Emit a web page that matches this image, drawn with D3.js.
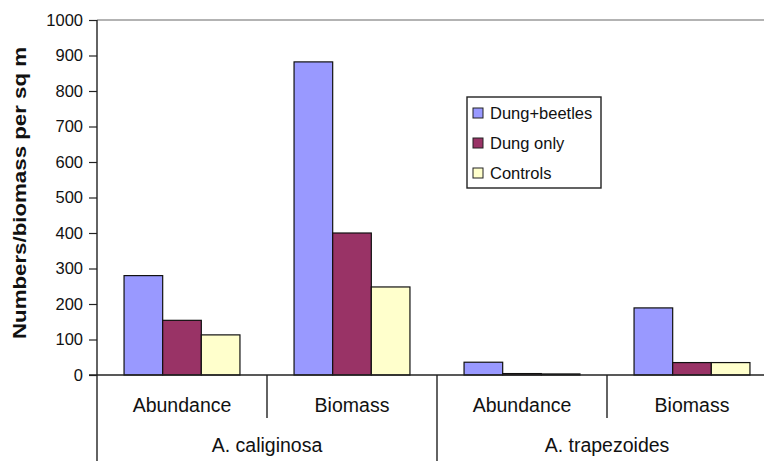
<!DOCTYPE html>
<html><head><meta charset="utf-8">
<script src="https://cdn.jsdelivr.net/npm/d3@7"></script>
<style>body{margin:0;background:#fff;}svg{display:block;font-family:"Liberation Sans",Arial,sans-serif;}</style>
</head><body><svg id="c" width="764" height="461"></svg>
<script>
const groups = ["A. caliginosa", "A. trapezoides"];
const measures = ["Abundance", "Biomass"];
const series = ["Dung+beetles", "Dung only", "Controls"];
const colors = ["#9999FF", "#993366", "#FFFFCC"];
// values per series (Dung+beetles, Dung only, Controls)
const caliginosaAbundance = [280, 154, 113];
const caliginosaBiomass = [882, 400, 248];
const trapezoidesAbundance = [36, 4, 3];
const trapezoidesBiomass = [189, 35, 35];
const yTicks = [0, 100, 200, 300, 400, 500, 600, 700, 800, 900, 1000];

const data = [
  {g: groups[0], m: measures[0], v: caliginosaAbundance},
  {g: groups[0], m: measures[1], v: caliginosaBiomass},
  {g: groups[1], m: measures[0], v: trapezoidesAbundance},
  {g: groups[1], m: measures[1], v: trapezoidesBiomass}
];
data.forEach((d,i)=>d.key = d.g + "|" + d.m);

const svg = d3.select("#c");
const x0 = 97, y0 = 375, yTop = 20;
const x = d3.scaleBand().domain(data.map(d=>d.key)).range([x0, x0 + 170*4]).padding(0);
const xs = d3.scaleBand().domain(series).range([0, x.bandwidth()]).paddingInner(0).paddingOuter(0.7);
const y = d3.scaleLinear().domain([0, 1000]).range([y0, yTop]);

// top border line
svg.append("line").attr("x1", x0).attr("x2", 764).attr("y1", y(1000)).attr("y2", y(1000))
  .attr("stroke", "#9a9a9a").attr("stroke-width", 1.5);

// bars
const cat = svg.selectAll("g.cat").data(data).join("g").attr("class","cat")
  .attr("transform", d=>`translate(${x(d.key)},0)`);
cat.selectAll("rect").data(d=>d.v.map((v,i)=>({s:series[i], v, i}))).join("rect")
  .attr("x", d=>xs(d.s)).attr("width", xs.bandwidth())
  .attr("y", d=>y(d.v)).attr("height", d=>y0 - y(d.v))
  .attr("fill", d=>colors[d.i]).attr("stroke", "#111").attr("stroke-width", 1.2);

// y axis
const yAxis = d3.axisLeft(y).tickValues(yTicks).tickSize(8).tickPadding(6).tickFormat(d3.format("d"));
const ya = svg.append("g").attr("transform", `translate(${x0},0)`).call(yAxis);
ya.select(".domain").remove();
ya.selectAll(".tick line").attr("stroke", "#222").attr("stroke-width", 1.2);
ya.selectAll(".tick text").attr("font-size", 16.5).attr("fill", "#111")
  .attr("font-family", "Liberation Sans, Arial, sans-serif");
svg.append("line").attr("x1", x0).attr("x2", x0).attr("y1", yTop).attr("y2", 461)
  .attr("stroke", "#222").attr("stroke-width", 1.4);

// x axis baseline
svg.append("line").attr("x1", x0 - 8).attr("x2", 764).attr("y1", y0).attr("y2", y0)
  .attr("stroke", "#222").attr("stroke-width", 1.4);

// measure separators & labels
data.forEach((d, i) => {
  const left = x(d.key);
  if (i % 2 === 1) {
    svg.append("line").attr("x1", left).attr("x2", left).attr("y1", y0).attr("y2", 418)
      .attr("stroke", "#222").attr("stroke-width", 1.4);
  } else if (i > 0) {
    svg.append("line").attr("x1", left).attr("x2", left).attr("y1", y0).attr("y2", 461)
      .attr("stroke", "#222").attr("stroke-width", 1.4);
  }
  svg.append("text").attr("x", left + x.bandwidth()/2).attr("y", 412)
    .attr("text-anchor", "middle").attr("font-size", 19.5).attr("fill", "#111").text(d.m);
});
groups.forEach((g, i) => {
  const keys = data.filter(d=>d.g===g).map(d=>d.key);
  const cx = (x(keys[0]) + x(keys[keys.length-1]) + x.bandwidth())/2;
  svg.append("text").attr("x", cx).attr("y", 452).attr("text-anchor", "middle")
    .attr("font-size", 19.5).attr("fill", "#111").text(g);
});

// y title
svg.append("text").attr("transform", "translate(26,193) rotate(-90)")
  .attr("text-anchor", "middle").attr("font-size", 18).attr("font-weight", "bold")
  .attr("textLength", 292).attr("lengthAdjust", "spacingAndGlyphs")
  .attr("fill", "#111").text("Numbers/biomass per sq m");

// legend
const lg = svg.append("g").attr("transform", "translate(467,97)");
lg.append("rect").attr("width", 134).attr("height", 91).attr("fill", "#fff")
  .attr("stroke", "#222").attr("stroke-width", 1.4);
series.forEach((s, i) => {
  const yy = 16 + i * 30;
  lg.append("rect").attr("x", 6).attr("y", yy - 5).attr("width", 10).attr("height", 10)
    .attr("fill", colors[i]).attr("stroke", "#222").attr("stroke-width", 1);
  lg.append("text").attr("x", 23).attr("y", yy + 6).attr("font-size", 16.5).attr("fill", "#111").text(s);
});
</script></body></html>
